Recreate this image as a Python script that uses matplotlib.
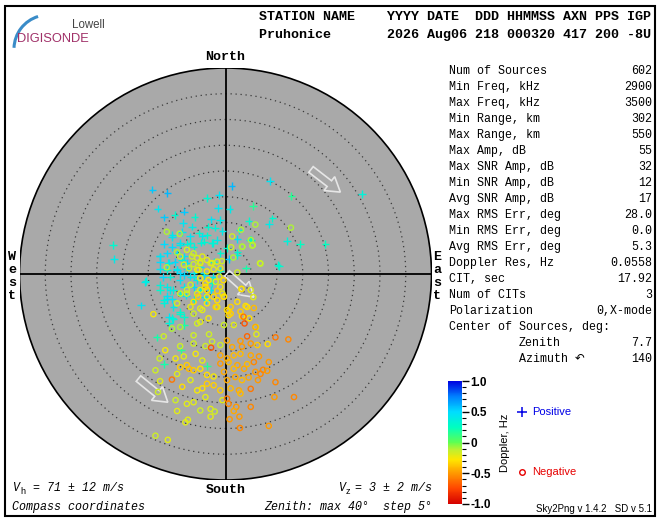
import matplotlib
matplotlib.use("Agg")
import matplotlib.pyplot as plt
from matplotlib.patches import Circle, Rectangle, FancyArrow, Arc
from matplotlib.colors import LinearSegmentedColormap, Normalize
from matplotlib.cm import ScalarMappable
import matplotlib.ticker as mticker
import numpy as np

# ---- skymap sources (east, north in deg of zenith; doppler in Hz) ----
pos_east = [-14.2, -11.3, 1.2, 8.6, 26.5, 12.8, -3.6, -1.3, -13.2, -12.0, -9.9, -8.0, -6.0, -1.5, 0.8,
            5.3, 9.1, 8.4, 4.5, 2.7, 4.7, 2.3, 11.9, 14.5, 19.4, 10.4, 4.0, 2.3, -21.8, -21.6,
            -15.5, -16.4, -2.8, -1.1, -2.0, -3.4, -0.6, -6.5, -8.2, -8.4, -10.3, -6.9, -5.1, -4.2, -1.6,
            -2.4, -12.0, -10.4, -8.8, -7.5, -12.7, -11.4, -9.4, -8.1, -12.7, -11.0, -9.9, -12.7, -11.4, -9.5,
            -12.1, -10.7, -8.9, -7.5, -6.8, -5.5, -4.2, -2.5, -1.0, -12.7, -11.4, -10.1, -8.1, -7.7, -11.4,
            -10.3, -12.0, -11.4, -6.2, -4.2, -3.7, -11.0, -10.1, -11.0, -8.0, -8.0, -13.3, -8.8, -12.0, -8.6,
            -3.6, -4.9, -6.2, -7.5, -8.4, -8.9, -6.2, -4.9, -2.9, -2.6, 0.2, 0.6, -1.0, -6.2, -4.7, -3.6,
            -10.4, -8.8, -6.8, -4.5, -2.6, -12.7, -11.1, -9.4, -8.1, -6.2, -4.2, -12.7, -10.7, -8.8, -12.0,
            -10.1, -8.8, -10.4, -15.6, -2.3, 4.9, 2.3, 10.1]
pos_north = [16.4, 15.7, 17.1, 18.1, 15.5, 15.1, 14.8, 15.3, 12.7, 11.0, 11.5, 12.1, 11.1, 12.8, 12.6,
             13.2, 10.8, 9.7, 10.3, 8.6, 6.6, 6.8, 6.4, 5.8, 5.8, 1.5, 1.1, 4.2, 5.6, 2.9,
             -1.4, -6.1, 10.6, 10.5, 9.0, 9.2, 8.4, 9.2, 9.9, 8.1, 7.6, 7.3, 7.9, 6.3, 6.6,
             6.0, 5.8, 5.3, 6.1, 5.8, 3.4, 4.0, 4.0, 3.4, 2.3, 2.2, 2.3, 0.9, 0.8, 0.9,
             -0.6, -0.5, -1.2, 0.9, -0.5, -1.2, -0.2, -0.5, 0.6, -3.1, -2.5, -3.1, -2.5, -4.2, -4.2,
             -4.8, -5.7, -4.9, -5.1, -4.4, -5.1, -8.3, -8.8, -9.6, -9.9, -8.3, -12.3, -7.7, -17.5, -14.8,
             -17.9, 1.4, 0.1, 2.1, 2.7, 0.1, -2.5, -3.1, -3.1, -1.8, 5.0, 2.9, 4.0, 5.3, 6.1, 7.5,
             7.2, 5.7, 6.0, 7.3, 6.0, 3.4, 2.1, 0.8, -0.2, -0.5, 0.1, -2.1, -3.1, -3.8, -5.1,
             -6.4, -7.3, -8.6, -1.5, 2.4, 6.6, 3.7, 1.8]
pos_dopp = [0.55, 0.6, 0.6, 0.45, 0.35, 0.15, 0.3, 0.45, 0.45, 0.55, 0.3, 0.55, 0.3, 0.45, 0.4,
            0.15, 0.3, 0.4, 0.3, 0.3, 0.3, 0.45, 0.35, 0.25, 0.25, 0.3, 0.2, 0.3, 0.3, 0.4,
            0.35, 0.45, 0.45, 0.4, 0.35, 0.3, 0.4, 0.4, 0.45, 0.45, 0.4, 0.45, 0.3, 0.3, 0.4,
            0.3, 0.5, 0.5, 0.45, 0.35, 0.45, 0.5, 0.5, 0.45, 0.5, 0.5, 0.5, 0.45, 0.35, 0.4,
            0.5, 0.35, 0.45, 0.45, 0.45, 0.4, 0.45, 0.4, 0.3, 0.3, 0.4, 0.35, 0.45, 0.45, 0.45,
            0.45, 0.35, 0.5, 0.3, 0.45, 0.45, 0.45, 0.35, 0.35, 0.2, 0.3, 0.2, 0.3, 0.2, 0.15,
            0.15, 0.4, 0.45, 0.45, 0.35, 0.5, 0.5, 0.35, 0.45, 0.3, 0.3, 0.55, 0.3, 0.35, 0.35, 0.3,
            0.45, 0.4, 0.35, 0.45, 0.35, 0.45, 0.4, 0.45, 0.5, 0.4, 0.45, 0.35, 0.4, 0.3, 0.35,
            0.4, 0.3, 0.35, 0.4, 0.3, 0.25, 0.35, 0.3]

neg_east = [-11.4, -8.9, 5.8, 3.0, 4.9, 5.3, 3.2, 12.7, 6.8, 1.1, 1.5, -0.7, 2.3, 3.1, 4.9,
            5.4, -11.4, -9.4, -7.5, -6.2, -5.5, -4.5, -3.6, -2.6, -1.6, -4.9, -6.2, -7.1, -5.5, -3.6,
            -2.3, -1.2, -4.9, -3.9, -1.9, -1.0, -0.6, -2.3, -3.6, -5.5, -7.5, -8.8, -9.4, -6.8, -4.9,
            -3.6, -1.6, -0.3, -14.0, -10.4, -12.0, -8.8, -5.5, -6.2, -3.2, -2.6, -3.9, -6.2, -8.8, -8.1,
            -9.7, -12.8, -11.7, -13.6, -12.7, -13.1, -9.7, -9.4, -7.3, -7.8, -13.6, -11.2, -6.2, -7.5, -4.9,
            -2.9, -2.1, -2.9, -5.5, -3.9, -0.6, -1.0, -2.3, -3.6, -4.5, -6.8, -8.4, -9.4, -8.8, -7.5,
            -6.2, -4.9, -7.1, -3.6, -2.3, -4.5, -5.8, -1.0, -0.3, 1.6, 0.6, 3.2, 4.6, 5.9, 6.0,
            6.2, 8.2, 1.0, 3.9, 0.3, 2.9, 4.2, 3.7, -2.8, 1.3, 3.2, 4.9, 9.7, 12.2, -1.0,
            0.3, 1.6, 2.9, 4.9, 6.5, -1.0, 0.6, 2.3, 4.2, 5.5, 8.4, -0.3, 1.6, 3.6, 5.8,
            7.3, 8.1, 0.3, 1.9, 3.2, 4.5, 6.3, 6.8, 9.7, 1.0, 2.6, 4.9, 2.9, 0.3, 0.6,
            2.1, 4.9, 1.6, 2.7, 0.8, 9.5, 13.3, 8.4, 2.8, -10.4,
            -1.6, -0.4, -3.9, -5.3, -6.2, -1.9, 0.6, 2.9, 5.5, 3.1, 3.5, 5.8,
            1.3, 3.3, 5.2, 6.7, -2.9, -4.9, -6.5, -5.2, -3.3, -6.8, -4.9, -7.5, -3.6, -1.6, -4.5,
            -6.2, -3.3, -4.9, 0.3, 1.0, 4.2, 2.3, -0.3, -1.0, -8.8, -8.1]
neg_north = [8.2, 7.8, 9.6, 8.6, 6.6, 5.6, 5.3, 9.0, 2.0, 5.2, 3.2, 2.5, 0.3, -2.9, -3.1,
             -4.5, 1.3, 4.2, 4.7, 4.0, 3.1, 3.4, 2.7, 2.1, 2.4, 2.1, 1.9, 1.1, 0.8, 0.5,
             0.9, -0.5, -0.8, -1.8, -1.5, -2.5, -3.8, -4.4, -3.1, -3.8, -3.1, -3.8, -5.7, -6.4, -6.7,
             -5.7, -6.4, -4.4, -7.8, -10.6, -12.1, -10.3, -9.6, -11.9, -11.7, -13.1, -14.0, -13.5, -14.0, -16.0,
             -16.4, -16.4, -14.8, -18.7, -20.8, -22.9, -24.5, -26.6, -28.3, -28.8, -31.4, -32.2, -24.9, -25.2, -26.5,
             -26.2, -26.7, -27.7, -22.6, -23.9, -24.5, -22.6, -21.6, -21.3, -22.2, -20.6, -21.9, -19.4, -18.1, -17.7,
             -18.7, -18.4, -18.4, -19.6, -19.9, -16.8, -15.5, -13.8, -9.9, -9.9, -8.0, -8.2, -8.6, -10.3, -11.7,
             -13.8, -13.6, -6.4, -6.2, -12.9, -13.0, -12.1, -9.6, -14.3, -14.2, -14.1, -13.5, -12.3, -12.7, -15.8,
             -16.4, -15.8, -15.5, -15.8, -16.0, -17.4, -17.1, -17.7, -17.5, -17.1, -17.1, -19.0, -18.4, -18.4, -19.0,
             -18.6, -18.8, -20.6, -20.0, -20.6, -20.1, -20.6, -19.4, -21.0, -22.2, -22.6, -22.3, -23.2, -24.2, -25.2,
             -25.8, -25.8, -26.6, -27.7, -28.2, -23.9, -23.9, -29.5, -29.9, -20.5,
             -3.3, -1.2, -2.5, -4.4, -5.4, -6.4, -7.2, -7.3, -6.6, -2.9, -8.3, -10.3,
             7.3, 5.3, 5.5, 2.1, 2.1, 2.4, 3.4, 0.8, -1.2, -2.1, -3.1, -3.8, -4.4, -5.1, -7.0,
             -7.7, -8.6, -9.3, -7.0, -7.7, -6.4, -5.4, -4.4, 1.1, 3.4, 1.8]
neg_dopp = [-0.1, -0.1, -0.1, -0.1, -0.1, -0.15, -0.1, -0.1, -0.1, -0.15, -0.1, -0.15, -0.15, -0.15, -0.2,
            -0.2, -0.1, -0.1, -0.15, -0.15, -0.2, -0.2, -0.2, -0.2, -0.2, -0.25, -0.15, -0.15, -0.25, -0.25,
            -0.2, -0.2, -0.25, -0.3, -0.2, -0.25, -0.2, -0.3, -0.3, -0.2, -0.15, -0.15, -0.15, -0.2, -0.2,
            -0.25, -0.2, -0.3, -0.25, -0.1, -0.15, -0.1, -0.15, -0.15, -0.15, -0.15, -0.15, -0.15, -0.15, -0.2,
            -0.25, -0.15, -0.25, -0.15, -0.2, -0.15, -0.15, -0.2, -0.2, -0.2, -0.15, -0.2, -0.2, -0.2, -0.15,
            -0.2, -0.15, -0.2, -0.25, -0.2, -0.2, -0.35, -0.35, -0.35, -0.3, -0.2, -0.3, -0.2, -0.35, -0.35,
            -0.35, -0.3, -0.4, -0.3, -0.25, -0.2, -0.25, -0.15, -0.15, -0.2, -0.3, -0.3, -0.3, -0.2, -0.2,
            -0.35, -0.3, -0.35, -0.3, -0.45, -0.5, -0.65, -0.7, -0.7, -0.45, -0.5, -0.5, -0.6, -0.55, -0.45,
            -0.45, -0.4, -0.4, -0.45, -0.5, -0.5, -0.4, -0.45, -0.4, -0.55, -0.5, -0.45, -0.4, -0.45, -0.5,
            -0.55, -0.5, -0.45, -0.45, -0.4, -0.45, -0.5, -0.55, -0.55, -0.4, -0.45, -0.6, -0.4, -0.6, -0.55,
            -0.5, -0.55, -0.45, -0.5, -0.5, -0.5, -0.55, -0.5, -0.55, -0.6,
            -0.35, -0.3, -0.3, -0.35, -0.3, -0.35, -0.35, -0.35, -0.4, -0.3, -0.6, -0.45,
            -0.15, -0.1, -0.1, -0.15, -0.2, -0.15, -0.15, -0.2, -0.25, -0.15, -0.2, -0.15, -0.25, -0.3, -0.2,
            -0.15, -0.25, -0.2, -0.3, -0.35, -0.3, -0.3, -0.3, -0.2, -0.15, -0.15]

# velocity arrows (tail -> tip, deg)
arrow_tail_e = [16.6, 0.3, -16.9]
arrow_tail_n = [20.3, 0.1, -20.3]
arrow_tip_e = [22.3, 5.5, -11.2]
arrow_tip_n = [15.9, -4.5, -24.9]

rings = [5, 10, 15, 20, 25, 30, 35]
max_zenith = 40

header1 = "STATION NAME    YYYY DATE  DDD HHMMSS AXN PPS IGP"
header2 = "Pruhonice       2026 Aug06 218 000320 417 200 -8U"

info_labels = ["Num of Sources", "Min Freq, kHz", "Max Freq, kHz", "Min Range, km", "Max Range, km",
               "Max Amp, dB", "Max SNR Amp, dB", "Min SNR Amp, dB", "Avg SNR Amp, dB", "Max RMS Err, deg",
               "Min RMS Err, deg", "Avg RMS Err, deg", "Doppler Res, Hz", "CIT, sec", "Num of CITs",
               "Polarization", "Center of Sources, deg:"]
info_values = ["602", "2900", "3500", "302", "550", "55", "32", "12", "17", "28.0",
               "0.0", "5.3", "0.0558", "17.92", "3", "0,X-mode", ""]
center_labels = ["Zenith", "Azimuth \u21b6"]
center_values = ["7.7", "140"]

cbar_ticks = [1.0, 0.5, 0.0, -0.5, -1.0]
cbar_ticklabels = ["1.0", "0.5", "0", "-0.5", "-1.0"]

doppler_cmap = LinearSegmentedColormap.from_list("doppler", [
    (0.0, "#d40000"), (0.125, "#ff4500"), (0.25, "#ff9900"), (0.36, "#ffe600"),
    (0.44, "#c0f030"), (0.5, "#60ff50"), (0.625, "#00ffc0"), (0.75, "#00ddff"),
    (0.875, "#0080ff"), (1.0, "#0000e0")])
norm = Normalize(-1, 1)

mono = "Liberation Mono"
sans = "Liberation Sans"

W, H = 660, 520
fig = plt.figure(figsize=(6.6, 5.2), dpi=100)
fig.patch.set_facecolor("white")

# background axes in pixel coordinates for all annotations
bg = fig.add_axes([0, 0, 1, 1], zorder=0)
bg.set_xlim(0, W)
bg.set_ylim(H, 0)
bg.axis("off")
bg.add_patch(Rectangle((5, 6), 650, 510, fill=False, ec="black", lw=1.5))

# logo
bg.add_patch(Arc((48, 49), 68, 68, theta1=182, theta2=253, color="#3a8cc8", lw=2.2))
bg.text(72, 25, "Lowell", fontsize=8.3, family=sans, color="#444444", va="center")
bg.text(17, 39, "DIGISONDE", fontsize=9.3, family=sans, color="#a03068", va="center")

bg.text(259, 17, header1, fontsize=9.6, family=mono, weight="bold", va="center")
bg.text(259, 35, header2, fontsize=9.6, family=mono, weight="bold", va="center")

for i, (lab, val) in enumerate(zip(info_labels, info_values)):
    y = 71 + 16 * i
    bg.text(449, y, lab, fontsize=8.4, family=mono, va="center")
    bg.text(652, y, val, fontsize=8.4, family=mono, va="center", ha="right")
for i, (lab, val) in enumerate(zip(center_labels, center_values)):
    y = 343 + 16 * i
    bg.text(519, y, lab, fontsize=8.4, family=[mono, "DejaVu Sans"], va="center")
    bg.text(652, y, val, fontsize=8.4, family=mono, va="center", ha="right")

# compass labels
bold = dict(fontsize=9.6, family=mono, weight="bold", va="center", ha="center")
bg.text(225.5, 57, "North", **bold)
bg.text(225.5, 490, "South", **bold)
for i, ch in enumerate("West"):
    bg.text(12, 257 + 13 * i, ch, **bold)
for i, ch in enumerate("East"):
    bg.text(437, 257 + 13 * i, ch, **bold)

ital = dict(fontsize=8.4, family=mono, style="italic", va="center")
bg.text(12, 488, "V", **ital)
bg.text(20, 491, "h", fontsize=6.5, family=sans, va="center")
bg.text(33, 488, "= 71 \u00b1 12 m/s", **ital)
bg.text(338, 488, "V", **ital)
bg.text(346, 491, "z", fontsize=6.5, family=sans, va="center")
bg.text(432, 488, "= 3 \u00b1 2 m/s", ha="right", **ital)
bg.text(12, 507, "Compass coordinates", **ital)
bg.text(432, 507, "Zenith: max 40\u00b0  step 5\u00b0", ha="right", **ital)

# legend and version
bg.plot([522], [412], marker="+", ms=7, mew=1.1, color="#0000e6", ls="none")
bg.text(532, 412, "Positive", fontsize=8, family=sans, color="#0000e6", va="center")
bg.plot([522], [472], marker="o", ms=4, mew=1, mfc="none", mec="#e60000", ls="none")
bg.text(532, 472, "Negative", fontsize=8, family=sans, color="#e60000", va="center")
bg.text(652, 509, "Sky2Png v 1.4.2   SD v 5.1", fontsize=7, family=sans, ha="right", va="center")
bg.text(505, 443, "Doppler, Hz", fontsize=8, family=sans, rotation=90, va="center", ha="center")

# skymap
ax = fig.add_axes([19.5 / W, 40 / H, 412 / W, 412 / H], zorder=1)
ax.set_xlim(-max_zenith, max_zenith)
ax.set_ylim(-max_zenith, max_zenith)
ax.set_aspect("equal")
ax.axis("off")
ax.add_patch(Circle((0, 0), max_zenith, fc="#a9a9a9", ec="black", lw=1.2))
for r in rings:
    ax.add_patch(Circle((0, 0), r, fill=False, ec="#3a3a3a", lw=0.9, ls=(0, (1, 3))))
ax.plot([0, 0], [-max_zenith, max_zenith], color="black", lw=1.3)
ax.plot([-max_zenith, max_zenith], [0, 0], color="black", lw=1.3)

for te, tn, pe, pn in zip(arrow_tail_e, arrow_tail_n, arrow_tip_e, arrow_tip_n):
    ax.add_patch(FancyArrow(te, tn, pe - te, pn - tn, width=1.4, head_width=3.4, head_length=2.7,
                            length_includes_head=True, fc="none", ec="#e6e6e6", lw=1.2, zorder=3))

ax.scatter(pos_east, pos_north, c=pos_dopp, cmap=doppler_cmap, norm=norm, marker="+",
           s=30, linewidths=1.0, zorder=4)
ax.scatter(neg_east, neg_north, facecolors="none", edgecolors=doppler_cmap(norm(np.array(neg_dopp))),
           marker="o", s=14, linewidths=1.0, zorder=5)

# colorbar
cax = fig.add_axes([448 / W, 16 / H, 14 / W, 123 / H])
cb = fig.colorbar(ScalarMappable(norm=norm, cmap=doppler_cmap), cax=cax)
cb.outline.set_visible(False)
cb.set_ticks(cbar_ticks)
cb.set_ticklabels(cbar_ticklabels)
cb.ax.yaxis.set_minor_locator(mticker.MultipleLocator(0.1))
cb.ax.tick_params(which="major", length=5, width=1, labelsize=8.5, pad=1)
cb.ax.tick_params(which="minor", length=3, width=0.8)
for t in cb.ax.get_yticklabels():
    t.set_fontweight("bold")
    t.set_family(sans)

fig.savefig("out.png", dpi=100)
